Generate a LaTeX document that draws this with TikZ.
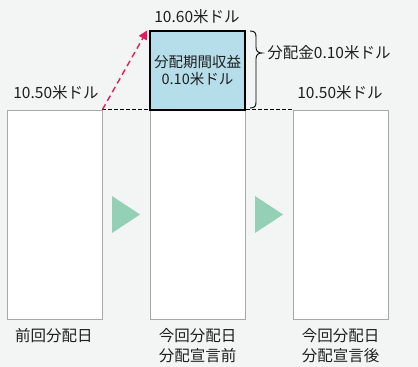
\documentclass[tikz,border=0pt]{standalone}
\usepackage{fontspec}
\setmainfont{Noto Sans CJK JP}
\usetikzlibrary{arrows.meta}
\definecolor{bgc}{HTML}{F2F5F4}
\definecolor{barline}{HTML}{A8A8A8}
\definecolor{boxblue}{HTML}{B6DEEA}
\definecolor{tri}{HTML}{93D0B5}
\definecolor{arrred}{HTML}{E6195E}
\definecolor{txt}{HTML}{1E1E1E}
\tikzset{
  bar/.style={draw=barline, fill=white, line width=0.9pt, minimum width=95pt, minimum height=209pt, inner sep=0pt},
  gain/.style={draw=black, fill=boxblue, line width=1.4pt, minimum width=95pt, minimum height=79pt, inner sep=0pt, align=center, font=\fontsize{14.5}{17}\selectfont, text=txt},
  lbl/.style={font=\fontsize{15.5}{17}\selectfont, text=txt, inner sep=0pt},
  caption/.style={font=\fontsize{15.5}{20}\selectfont, text=txt, inner sep=0pt, align=center},
  level/.style={black, line width=0.8pt, dash pattern=on 3.5pt off 2.5pt},
  rise/.style={arrred, line width=1.4pt, dash pattern=on 6pt off 4pt, -{Triangle[length=9pt,width=9pt]}},
  play/.style={fill=tri, draw=none}
}
\begin{document}
\begin{tikzpicture}[x=1pt,y=-1pt]
\fill[bgc] (0,0) rectangle (418,367);
\useasboundingbox (0,0) rectangle (418,367);
\node[bar] (b1) at (54.5,214.5) {};
\node[bar] (b2) at (197.5,214.5) {};
\node[bar] (b3) at (340.5,214.5) {};
\draw[level] (b1.north east) -- (b3.north west);
\node[gain] (g) at (197.5,70.5) {分配期間収益\\0.10米ドル};
\draw[rise] (b1.north east) -- ([xshift=-2pt]g.north west);
\fill[play] (112,196) -- (140,214.5) -- (112,233) -- cycle;
\fill[play] (255,196) -- (283,214.5) -- (255,233) -- cycle;
\draw[black, line width=0.9pt] (250,31) .. controls (255,31) and (256,33) .. (256,37) -- (256,47)
  .. controls (256,51) and (258,53) .. (262,53)
  .. controls (258,53) and (256,55) .. (256,59) -- (256,102)
  .. controls (256,106) and (255,108) .. (250,108);
\node[lbl] (t1) at (197,17) {10.60米ドル};
\node[lbl] (t2) at (56,93) {10.50米ドル};
\node[lbl] (t3) at (340,93) {10.50米ドル};
\node[lbl] (t4) at (329,53) {分配金0.10米ドル};
\node[caption] (c1) at (54,336) {前回分配日};
\node[caption] (c2) at (197.5,346) {今回分配日\\分配宣言前};
\node[caption] (c3) at (340.5,346) {今回分配日\\分配宣言後};
\end{tikzpicture}
\end{document}
